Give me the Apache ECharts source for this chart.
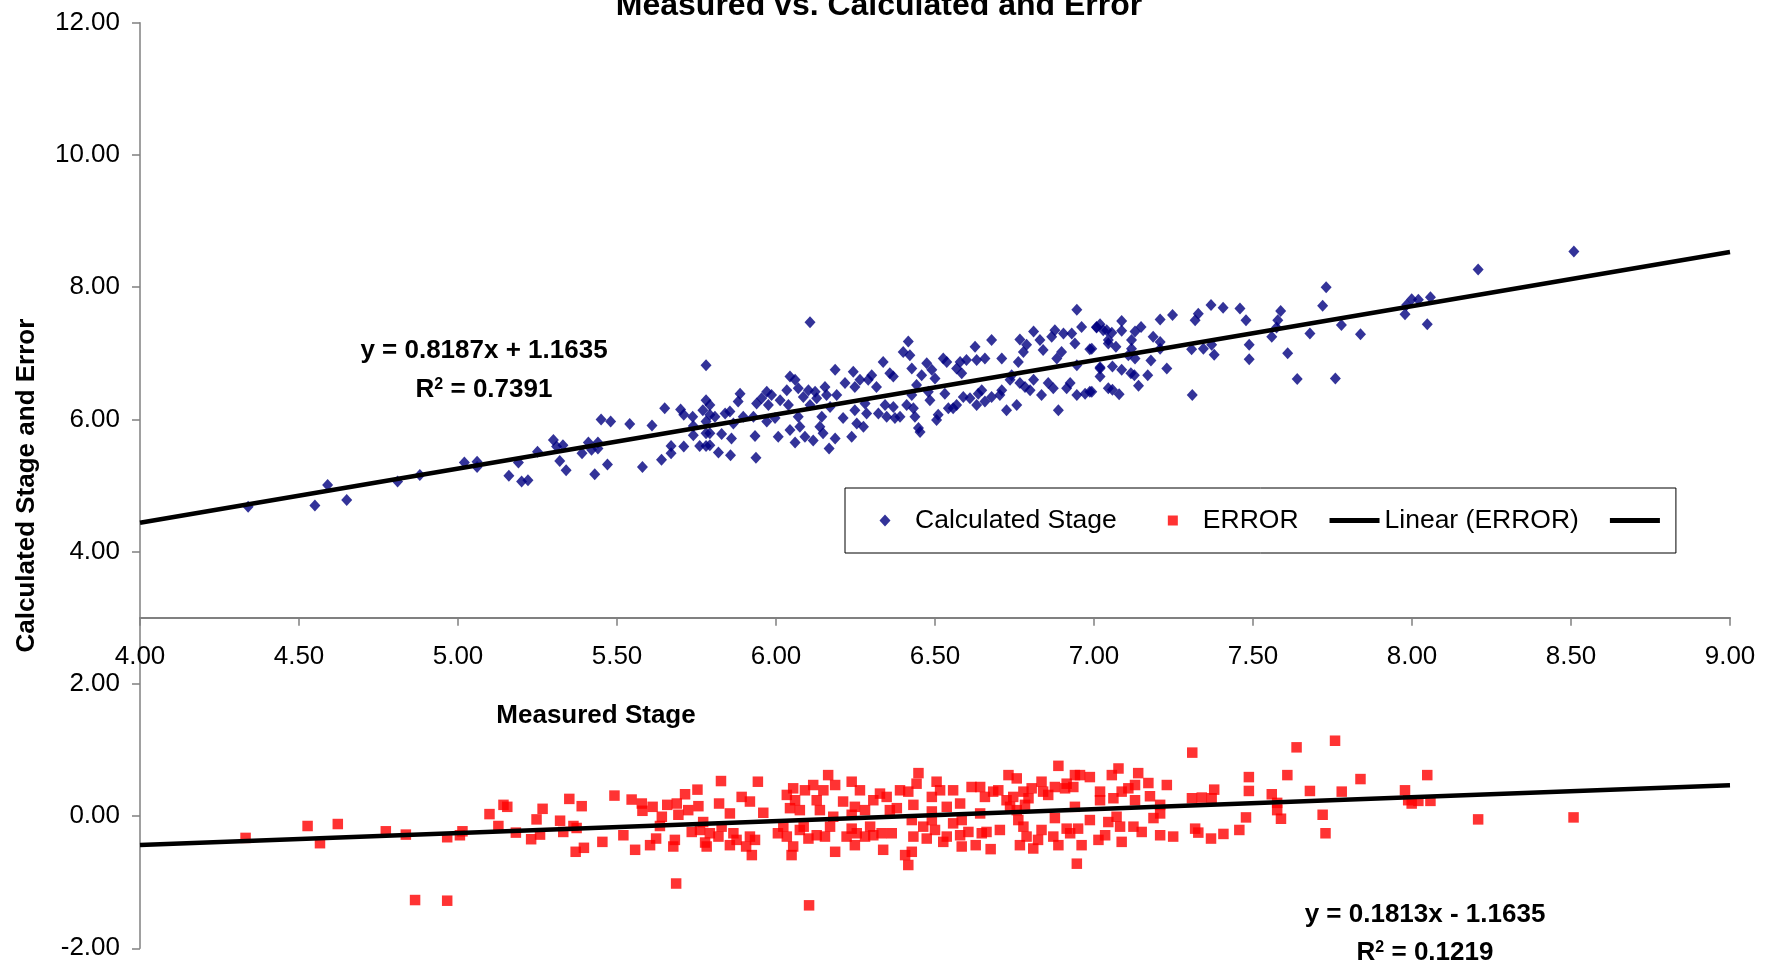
<!DOCTYPE html>
<html><head><meta charset="utf-8">
<script src="https://cdn.jsdelivr.net/npm/echarts@6/dist/echarts.min.js"></script>
<style>html,body{margin:0;padding:0;background:#fff}#c{width:1765px;height:967px}</style>
</head><body><div id="c"></div><script>
// ---- data ----
const calculatedStage = [
[4.34,4.68],[4.55,4.70],[4.59,5.01],[4.65,4.78],[4.81,5.06],[4.88,5.16],[5.02,5.35],[5.06,5.36],[5.06,5.28],[5.16,5.15],[5.19,5.35],[5.20,5.06],[5.22,5.08],[5.25,5.51],[5.30,5.69],[5.31,5.59],[5.33,5.61],[5.32,5.37],[5.34,5.23],[5.39,5.49],[5.41,5.65],[5.42,5.54],[5.44,5.65],[5.44,5.56],[5.43,5.17],[5.47,5.32],[5.45,6.00],[5.48,5.97],[5.54,5.93],[5.58,5.28],[5.61,5.91],[5.64,5.39],[5.65,6.17],[5.67,5.49],[5.67,5.60],[5.70,6.15],[5.71,6.07],[5.71,5.59],[5.74,5.90],[5.74,5.76],[5.76,5.60],[5.78,6.82],[5.78,6.29],[5.77,6.14],[5.78,5.97],[5.78,5.79],[5.78,5.60],
[6.107,7.47],[5.792,6.22],[5.738,6.04],[5.792,6.07],[5.808,6.04],[5.792,5.79],[5.792,5.61],[5.819,5.50],[5.829,5.78],[5.860,5.71],[5.857,5.46],[5.840,6.09],[5.855,6.12],[5.866,5.94],[5.887,6.39],[5.897,6.04],[5.881,6.27],[5.929,6.04],[5.934,5.75],[5.937,5.42],[5.939,6.24],[5.955,6.32],[5.971,6.42],[5.976,6.22],[5.971,5.97],[5.986,6.37],[5.997,6.02],[6.007,5.74],[6.013,6.29],[6.034,6.44],[6.039,6.22],[6.044,6.65],[6.060,6.60],[6.044,5.84],[6.060,5.65],[6.070,6.04],[6.075,5.89],[6.070,6.47],[6.086,6.34],[6.091,5.74],[6.102,6.44],[6.107,6.22],[6.117,5.68],[6.123,6.42],[6.128,6.32],[6.138,5.89],[6.144,6.04],[6.148,5.79],[6.154,6.49],[6.159,6.37],[6.167,5.56],[6.170,6.19],[6.186,6.75],[6.186,5.71],[6.191,6.37],[6.211,6.02],[6.217,6.55],[6.238,5.74],[6.243,6.72],[6.248,6.49],[6.248,6.14],[6.254,5.94],[6.264,6.60],[6.275,5.89],[6.280,6.24],[6.285,6.09],[6.290,6.60],[6.301,6.67],[6.316,6.49],[6.322,6.09],[6.337,6.87],[6.343,6.22],[6.348,6.04],[6.358,6.70],[6.369,6.65],[6.369,6.19],[6.374,6.02],[6.390,6.04],[6.400,7.02],[6.411,6.22],[6.416,7.18],[6.421,6.97],[6.427,6.77],[6.427,6.37],[6.432,6.17],[6.437,6.04],[6.442,6.52],[6.448,5.87],[6.453,5.81],[6.458,6.67],[6.474,6.85],[6.479,6.42],[6.484,6.29],[6.490,6.75],[6.500,6.62],[6.505,5.99],[6.510,6.07],[6.526,6.92],[6.531,6.39],[6.537,6.87],[6.542,6.17],[6.557,6.17],[6.568,6.77],[6.568,6.22],[6.579,6.87],[6.584,6.70],[6.589,6.34],[6.599,6.90],[6.610,6.32],[6.626,7.10],[6.631,6.90],[6.631,6.22],[6.636,6.39],[6.647,6.44],[6.657,6.92],[6.657,6.27],[6.678,7.20],[6.678,6.34],[6.704,6.37],[6.710,6.92],[6.710,6.44],[6.725,6.14],[6.736,6.60],[6.741,6.67],[6.757,6.22],[6.762,6.87],[6.767,7.21],[6.767,6.55],[6.778,7.02],[6.783,6.49],[6.788,7.13],[6.799,6.44],[6.810,7.33],[6.810,6.60],[6.830,7.20],[6.835,6.37],[6.840,7.05],[6.856,6.55],[6.867,7.25],[6.872,6.47],[6.877,7.35],[6.883,6.92],[6.888,6.14],[6.898,7.02],[6.904,7.30],[6.914,6.47],[6.925,6.55],[6.930,7.30],[6.940,7.15],[6.946,7.66],[6.946,6.37],[6.946,6.82],[6.961,7.40],[6.972,6.39],[6.987,6.42],[6.987,7.06],[7.008,7.40],[7.019,6.77],[7.019,6.65],[7.029,7.35],[7.045,7.20],[7.045,6.47],
[8.509,8.54],[8.208,8.27],[7.730,8.00],[7.719,7.72],[7.999,7.82],[8.020,7.81],[7.983,7.73],[8.058,7.85],[7.978,7.59],[8.048,7.44],[7.778,7.43],[7.838,7.29],[7.679,7.30],[7.759,6.62],[7.639,6.61],[7.609,7.00],[7.587,7.64],[7.578,7.50],[7.574,7.39],[7.559,7.25],[7.488,7.13],[7.488,6.91],[7.478,7.50],[7.459,7.68],[7.406,7.69],[7.368,7.73],[7.328,7.60],[7.318,7.50],[7.370,7.13],[7.378,6.98],[7.344,7.07],[7.307,7.06],[7.309,6.37],[7.247,7.58],[7.208,7.51],[7.229,6.77],[7.208,7.07],[7.208,7.17],[7.186,7.25],[7.179,6.89],[7.169,6.67],[7.140,6.51],[7.148,7.40],[7.129,6.92],[7.127,6.67],[7.118,7.20],[7.118,7.07],[7.116,6.70],[7.129,7.33],[7.087,7.49],[7.087,7.34],[7.087,6.75],[7.079,6.38],[7.069,7.10],[7.058,6.45],[7.058,6.80],[7.056,7.31],[7.045,7.15],[7.040,7.35],[7.019,7.44],[7.008,7.39],[7.019,6.79],[6.993,7.07],[6.993,6.42],[7.108,6.97]
];
const errorValues = [
[4.332,-0.33],[4.527,-0.15],[4.566,-0.41],[4.622,-0.12],[4.773,-0.23],[4.836,-0.28],[4.865,-1.27],[4.966,-1.28],[4.966,-0.32],[5.006,-0.29],[5.014,-0.23],[5.099,0.03],[5.127,-0.15],[5.143,0.17],[5.155,0.14],[5.182,-0.25],[5.230,-0.35],[5.247,-0.05],[5.258,-0.28],[5.266,0.11],[5.321,-0.07],[5.331,-0.24],[5.350,0.26],[5.363,-0.15],[5.373,-0.18],[5.370,-0.54],[5.389,0.15],[5.396,-0.48],[5.454,-0.39],[5.492,0.31],[5.520,-0.29],[5.546,0.25],[5.557,-0.51],[5.578,0.19],[5.580,0.08],[5.604,-0.44],[5.612,0.14],[5.623,-0.34],[5.635,-0.15],[5.641,-0.01],[5.658,0.17],[5.686,-1.02],[5.677,-0.46],[5.682,-0.36],[5.688,0.19],[5.693,0.02],[5.714,0.33],[5.724,0.09],[5.735,-0.24],[5.753,0.40],[5.756,0.15],[5.761,-0.21],[5.777,-0.40],[5.782,-0.46],[5.792,-0.26],[5.821,0.19],[5.827,0.53],[5.819,-0.31],[5.855,0.04],[5.855,-0.44],[5.866,-0.26],[5.892,0.29],[5.876,-0.36],[5.918,-0.31],[5.924,-0.59],[5.918,0.22],[5.829,-0.16],[5.771,-0.09],
[5.943,0.52],[5.96,0.05],[6.006,-0.26],[5.906,-0.46],[5.934,-0.36],[6.087,-0.16],[6.104,-1.35],
[7.309,0.96],[6.888,0.76],[7.077,0.72],[7.056,0.62],[7.139,0.65],[7.229,0.47],[7.171,0.50],[7.129,0.47],[7.108,0.42],[7.087,0.37],[7.061,0.27],[7.176,0.30],[7.129,0.24],[7.208,0.17],[7.208,0.04],[7.187,-0.03],[7.318,-0.19],[7.249,-0.31],[7.208,-0.29],[7.150,-0.24],[7.124,-0.16],[7.071,-0.01],[7.045,-0.09],[7.087,-0.39],[7.019,0.37],[7.019,0.24],[6.987,0.59],[6.956,0.62],[6.940,0.62],[6.935,0.44],[6.914,0.49],[6.909,0.42],[6.877,0.44],[6.856,0.32],[6.835,0.52],[6.840,0.37],[6.804,0.42],[6.794,0.27],[6.778,0.37],[6.757,0.57],[6.731,0.62],[6.746,0.29],[6.736,0.14],[6.757,0.09],[6.783,0.17],[6.940,0.14],[6.987,-0.06],[6.950,-0.19],[6.914,-0.19],[6.877,-0.03],[6.925,-0.26],[6.961,-0.44],[6.946,-0.72],[7.014,-0.36],[7.035,-0.29],[7.082,-0.16],[6.872,-0.31],[6.888,-0.44],[6.835,-0.21],[6.809,-0.49],[6.767,-0.44],[6.788,-0.31],[6.762,-0.06],[6.778,-0.16],[6.704,-0.21],[6.675,-0.50],[6.628,-0.44],[6.647,-0.26],[6.662,-0.24],[6.605,-0.24],[6.579,-0.29],[6.584,-0.06],[6.557,-0.11],[6.526,-0.39],[6.537,-0.31],[6.500,-0.21],[6.474,-0.34],[6.490,-0.06],[6.463,-0.16],[6.432,-0.31],[6.427,-0.06],[6.416,-0.74],[6.406,-0.59],[6.427,-0.54],[6.364,-0.26],[6.337,-0.51],[6.332,-0.26],[6.306,-0.29],[6.296,-0.16],[6.280,-0.31],[6.254,-0.26],[6.248,-0.44],[6.222,-0.31],[6.238,-0.19],[6.186,-0.54],[6.154,-0.31],[6.170,-0.16],[6.128,-0.29],[6.102,-0.34],[6.075,-0.21],[6.054,-0.46],[6.049,-0.59],[6.034,-0.31],[6.023,-0.16],
[6.164,0.62],[6.186,0.47],[6.238,0.52],[6.117,0.47],[6.054,0.42],[6.149,0.39],[6.091,0.39],[6.060,0.24],[6.034,0.32],[6.128,0.24],[6.211,0.22],[6.248,0.14],[6.264,0.39],[6.280,0.09],[6.306,0.24],[6.327,0.34],[6.348,0.29],[6.358,0.09],[6.390,0.39],[6.416,0.37],[6.432,0.17],[6.442,0.49],[6.448,0.65],[6.490,0.29],[6.505,0.52],[6.516,0.39],[6.537,0.14],[6.557,0.39],[6.579,0.19],[6.615,0.44],[6.642,0.44],[6.657,0.29],[6.683,0.37],[6.699,0.39],[6.725,0.24],[6.642,0.04],[6.380,0.12],[6.075,0.09],[6.044,0.12],[6.138,0.09],[6.180,-0.01],[6.490,0.07],[6.238,0.02],[6.584,-0.46],[6.824,-0.36],
[7.758,1.14],[7.637,1.04],[7.838,0.56],[8.048,0.62],[7.608,0.62],[7.487,0.59],[7.487,0.38],[7.378,0.40],[7.308,0.27],[7.339,0.28],[7.370,0.27],[7.559,0.33],[7.576,0.20],[7.576,0.09],[7.588,-0.04],[7.679,0.38],[7.779,0.37],[7.719,0.02],[7.728,-0.26],[7.478,-0.02],[7.457,-0.21],[7.407,-0.27],[7.368,-0.34],[7.328,-0.25],[7.978,0.39],[7.988,0.24],[7.999,0.19],[8.020,0.23],[8.058,0.23],[8.208,-0.05],[8.508,-0.02]
];
// trendline equations as printed on the chart
const calcTrend = {slope: 0.8187, intercept: 1.1635, r2: '0.7391'};
const errorTrend = {slope: 0.1813, intercept: -1.1635, r2: '0.1219'};
const xRange = [4, 9];
const yRange = [-2, 12];
const xInterval = 0.5, yInterval = 2;
const xAxisCrossesAtY = 3;
const seriesNames = ['Calculated Stage', 'ERROR', 'Linear (ERROR)', 'Linear (Calculated Stage)'];

// ---- chart ----
const FONT = '"Liberation Sans", Arial, sans-serif';
const W = 1765, H = 967;
const grid = {left: 140, right: 35, top: 22.8, bottom: 18.7};
const gridH = H - grid.top - grid.bottom;
const xOffset = -(xAxisCrossesAtY - yRange[0]) / (yRange[1] - yRange[0]) * gridH;
const trendPts = t => xRange.map(x => [x, +(t.slope * x + t.intercept).toFixed(4)]);
const fmt = v => v.toFixed(2);

// legend icons: 50x12 boxes (corner points fix the box so the marker keeps its shape)
const BOX = 'M0,0L0.01,0 M49.99,12L50,12 ';
const ICON_DIAMOND = 'path://' + BOX + 'M25,0L30.5,6L25,12L19.5,6Z';
const ICON_SQUARE = 'path://' + BOX + 'M20,1H30V11H20Z';
const ICON_LINE = 'path://' + BOX + 'M0,3.5H50V8.5H0Z';

const chart = echarts.init(document.getElementById('c'), null, {renderer: 'canvas', width: W, height: H});
chart.setOption({
  animation: false,
  backgroundColor: '#ffffff',
  textStyle: {fontFamily: FONT},
  grid: Object.assign({containLabel: false, outerBoundsMode: 'none'}, grid),
  xAxis: {
    type: 'value', min: xRange[0], max: xRange[1], interval: xInterval,
    position: 'bottom', offset: xOffset,
    axisLine: {show: true, onZero: false, lineStyle: {color: '#808080', width: 2}},
    axisTick: {show: true, inside: false, length: 8, lineStyle: {color: '#808080', width: 1.5}},
    axisLabel: {fontSize: 26, color: '#000', margin: 26, fontFamily: FONT, formatter: fmt, hideOverlap: false},
    splitLine: {show: false}
  },
  yAxis: {
    type: 'value', min: yRange[0], max: yRange[1], interval: yInterval,
    name: 'Calculated Stage and Error', nameLocation: 'middle', nameGap: 100,
    nameTextStyle: {fontSize: 26, fontWeight: 'bold', color: '#000', fontFamily: FONT},
    axisLine: {show: true, onZero: false, lineStyle: {color: '#808080', width: 1.5}},
    axisTick: {show: true, inside: false, length: 8, lineStyle: {color: '#808080', width: 1.5}},
    axisLabel: {fontSize: 26, color: '#000', margin: 20, fontFamily: FONT, formatter: fmt, hideOverlap: false},
    splitLine: {show: false}
  },
  legend: {
    left: 845, top: 488, orient: 'horizontal',
    data: [
      {name: seriesNames[0], icon: ICON_DIAMOND, itemStyle: {color: '#000080'}},
      {name: seriesNames[1], icon: ICON_SQUARE, itemStyle: {color: '#ff0000'}},
      {name: seriesNames[2], icon: ICON_LINE, itemStyle: {color: '#000'}},
      {name: seriesNames[3], icon: ICON_LINE, itemStyle: {color: '#000'}}
    ],
    itemWidth: 50, itemHeight: 12, itemGap: 31,
    symbolKeepAspect: false,
    padding: [19, 16, 19, 15],
    borderColor: '#000', borderWidth: 1,
    backgroundColor: '#fff',
    selectedMode: false,
    textStyle: {fontSize: 26.5, color: '#000', fontFamily: FONT},
    formatter: n => (n === seriesNames[3] ? '' : n)
  },
  series: [
    {name: seriesNames[0], type: 'scatter', data: calculatedStage, symbol: 'diamond', symbolSize: [11, 12],
     itemStyle: {color: '#000080'}, z: 2, silent: true},
    {name: seriesNames[1], type: 'scatter', data: errorValues, symbol: 'rect', symbolSize: 10.5,
     itemStyle: {color: '#ff0000'}, z: 2, silent: true},
    {name: seriesNames[2], type: 'line', data: trendPts(errorTrend), symbol: 'none', showSymbol: false,
     lineStyle: {color: '#000', width: 4.5}, itemStyle: {color: '#000'}, z: 3, silent: true},
    {name: seriesNames[3], type: 'line', data: trendPts(calcTrend), symbol: 'none', showSymbol: false,
     lineStyle: {color: '#000', width: 4.5}, itemStyle: {color: '#000'}, z: 3, silent: true}
  ],
  graphic: [
    {type: 'text', silent: true, style: {text: 'Measured vs. Calculated and Error', x: 879, y: 6, align: 'center', verticalAlign: 'middle',
      fill: '#000', font: 'bold 32px ' + FONT}},
    {type: 'text', silent: true, style: {text: 'Measured Stage', x: 596, y: 716, align: 'center', verticalAlign: 'middle',
      fill: '#000', font: 'bold 26px ' + FONT}},
    {type: 'text', silent: true, style: {text: 'y = ' + calcTrend.slope + 'x + ' + calcTrend.intercept.toFixed(4), x: 484, y: 351, align: 'center', verticalAlign: 'middle',
      fill: '#000', font: 'bold 26px ' + FONT}},
    {type: 'text', silent: true, style: {text: '{n|R}{s|2}{n| = ' + calcTrend.r2 + '}', x: 484, y: 390, align: 'center', verticalAlign: 'middle',
      fill: '#000', rich: {n: {fontSize: 26, fontWeight: 'bold', fontFamily: FONT}, s: {fontSize: 16, fontWeight: 'bold', fontFamily: FONT, verticalAlign: 'top'}}}},
    {type: 'text', silent: true, style: {text: 'y = ' + errorTrend.slope + 'x - ' + Math.abs(errorTrend.intercept).toFixed(4), x: 1425, y: 915, align: 'center', verticalAlign: 'middle',
      fill: '#000', font: 'bold 26px ' + FONT}},
    {type: 'text', silent: true, style: {text: '{n|R}{s|2}{n| = ' + errorTrend.r2 + '}', x: 1425, y: 953, align: 'center', verticalAlign: 'middle',
      fill: '#000', rich: {n: {fontSize: 26, fontWeight: 'bold', fontFamily: FONT}, s: {fontSize: 16, fontWeight: 'bold', fontFamily: FONT, verticalAlign: 'top'}}}}
  ]
});
</script></body></html>
